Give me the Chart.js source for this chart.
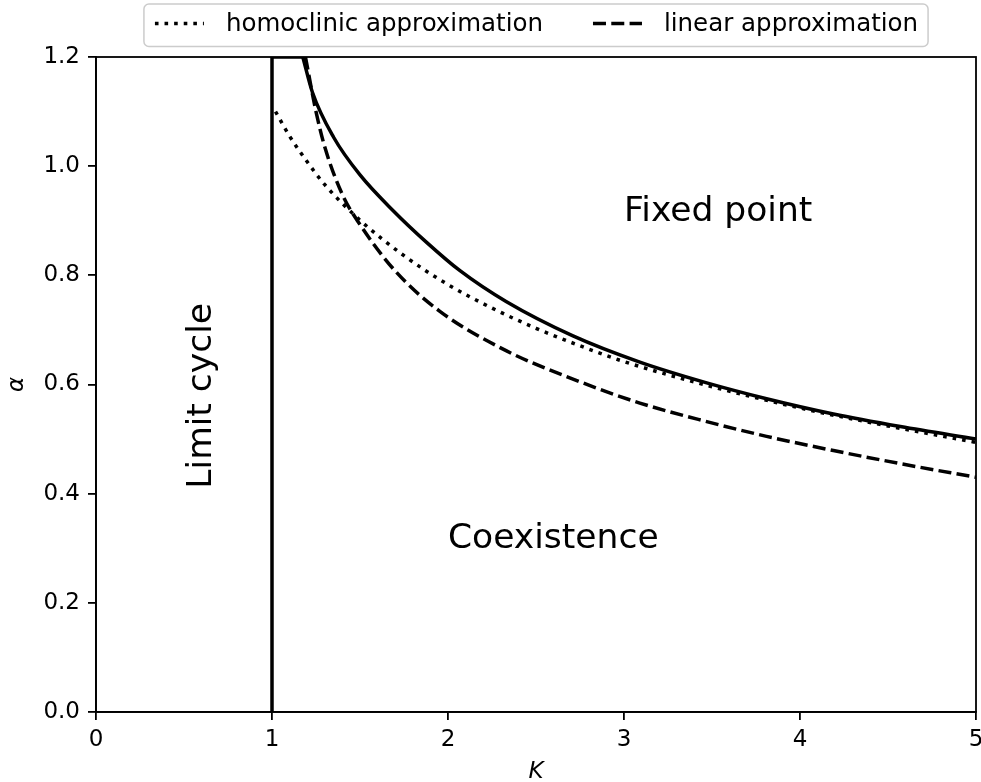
<!DOCTYPE html>
<html>
<head>
<meta charset="utf-8">
<title>Phase diagram</title>
<script src="https://cdn.jsdelivr.net/npm/chart.js@4.4.0/dist/chart.umd.min.js"></script>
<style>
  html, body { margin: 0; padding: 0; background: #fff; }
  #wrap { position: relative; width: 981px; height: 782px; }
</style>
</head>
<body>
<div id="wrap"><canvas id="phase"></canvas></div>
<script>
// regime boundaries in the (K, alpha) plane
const kBoundary = [1, 1, 1.175];
const alphaBoundary = [0, 1.2, 1.2];

const kNumeric = [1.175, 1.23, 1.35, 1.5, 1.69, 1.88, 2.07, 2.33, 2.71, 3.09, 3.47, 3.81, 4.19, 4.57, 5.0];
const alphaNumeric = [1.2, 1.135, 1.053, 0.984, 0.918, 0.860, 0.808, 0.752, 0.689, 0.641, 0.603, 0.574, 0.546, 0.523, 0.500];

const kHomoclinic = [1.02, 1.1, 1.2, 1.3, 1.5, 1.75, 2.0, 2.25, 2.5, 2.75, 3.0, 3.5, 4.0, 4.5, 5.0];
const alphaHomoclinic = [1.100, 1.055, 1.008, 0.966, 0.901, 0.836, 0.783, 0.740, 0.703, 0.671, 0.642, 0.596, 0.557, 0.524, 0.494];

const kLinear = [1.19, 1.25, 1.3, 1.4, 1.5, 1.7, 1.95, 2.33, 2.71, 3.09, 3.47, 3.81, 4.19, 4.57, 5.0];
const alphaLinear = [1.2, 1.10, 1.035, 0.948, 0.893, 0.808, 0.735, 0.662, 0.610, 0.566, 0.532, 0.505, 0.479, 0.455, 0.430];

const kTicks = [0, 1, 2, 3, 4, 5];
const alphaTicks = [0, 0.2, 0.4, 0.6, 0.8, 1.0, 1.2];

// region names and where they sit (K, alpha)
const regionNames = ['Fixed point', 'Coexistence', 'Limit cycle'];
const regionK = [3, 2, 0.5];
const regionAlpha = [0.9, 0.3, 0.4];

const FONT = "'DejaVu Sans', 'Noto Sans', sans-serif";

function pts(xs, ys) {
  return xs.map((x, i) => ({ x: x, y: ys[i] }));
}

function curve(label, xs, ys, dash, inLegend) {
  return {
    label: label,
    data: pts(xs, ys),
    showLine: true,
    borderColor: '#000',
    borderWidth: 3.5,
    borderDash: dash,
    borderCapStyle: 'butt',
    pointRadius: 0,
    pointHoverRadius: 0,
    cubicInterpolationMode: 'monotone',
    inLegend: inLegend
  };
}

// frame on all four sides, like a boxed axes
const frame = {
  id: 'frame',
  afterDatasetsDraw(chart) {
    const a = chart.chartArea, ctx = chart.ctx;
    ctx.save();
    ctx.strokeStyle = '#000';
    ctx.lineWidth = 1.8;
    ctx.strokeRect(a.left, a.top, a.right - a.left, a.bottom - a.top);
    ctx.restore();
  }
};

// region names placed in data coordinates
const regions = {
  id: 'regions',
  afterDatasetsDraw(chart) {
    const x = chart.scales.x, y = chart.scales.y, ctx = chart.ctx;
    const size = 34.5;
    ctx.save();
    ctx.fillStyle = '#000';
    ctx.font = size + 'px ' + FONT;
    ctx.textBaseline = 'alphabetic';
    ctx.textAlign = 'left';
    regionNames.forEach((name, i) => {
      const px = x.getPixelForValue(regionK[i]);
      const py = y.getPixelForValue(regionAlpha[i]);
      if (name === 'Limit cycle') {
        ctx.save();
        ctx.translate(px + size * 0.77, py - 5);
        ctx.rotate(-Math.PI / 2);
        ctx.fillText(name, 0, 0);
        ctx.restore();
      } else {
        ctx.fillText(name, px, py);
      }
    });
    ctx.restore();
  }
};

// boxed legend above the plot, centred on the axes
const boxLegend = {
  id: 'boxLegend',
  afterDraw(chart) {
    const ctx = chart.ctx, a = chart.chartArea;
    const items = chart.data.datasets.filter(d => d.inLegend);
    const size = 24.5;
    const handle = 49, gap = 22, colGap = 50, padL = 11, padR = 10;
    ctx.save();
    ctx.font = size + 'px ' + FONT;
    const widths = items.map(d => ctx.measureText(d.label).width);
    let total = padL + padR;
    widths.forEach((w, i) => { total += handle + gap + w + (i > 0 ? colGap : 0); });
    const left = (a.left + a.right) / 2 - total / 2;
    const top = 4, h = 42.5, r = 5;

    ctx.beginPath();
    ctx.moveTo(left + r, top);
    ctx.arcTo(left + total, top, left + total, top + h, r);
    ctx.arcTo(left + total, top + h, left, top + h, r);
    ctx.arcTo(left, top + h, left, top, r);
    ctx.arcTo(left, top, left + total, top, r);
    ctx.closePath();
    ctx.fillStyle = 'rgba(255,255,255,0.8)';
    ctx.fill();
    ctx.strokeStyle = '#cccccc';
    ctx.lineWidth = 1.5;
    ctx.stroke();

    let cx = left + padL;
    const cy = 23.5;
    items.forEach((d, i) => {
      if (i > 0) cx += colGap;
      ctx.beginPath();
      ctx.setLineDash(d.borderDash || []);
      ctx.lineCap = 'butt';
      ctx.lineWidth = d.borderWidth;
      ctx.strokeStyle = d.borderColor;
      ctx.moveTo(cx, cy);
      ctx.lineTo(cx + handle, cy);
      ctx.stroke();
      ctx.setLineDash([]);
      cx += handle + gap;
      ctx.fillStyle = '#000';
      ctx.textBaseline = 'middle';
      ctx.textAlign = 'left';
      ctx.fillText(d.label, cx, cy + 1.5);
      cx += widths[i];
    });
    ctx.restore();
  }
};

new Chart(document.getElementById('phase'), {
  type: 'scatter',
  data: {
    datasets: [
      curve('boundary', kBoundary, alphaBoundary, [], false),
      curve('numerical boundary', kNumeric, alphaNumeric, [], false),
      curve('homoclinic approximation', kHomoclinic, alphaHomoclinic, [3.6, 6], true),
      curve('linear approximation', kLinear, alphaLinear, [13, 5.3], true)
    ]
  },
  options: {
    responsive: true,
    maintainAspectRatio: false,
    animation: false,
    events: [],
    layout: { padding: { top: 57, right: 5, left: 0, bottom: 0 } },
    plugins: {
      legend: { display: false },
      tooltip: { enabled: false }
    },
    scales: {
      x: {
        type: 'linear',
        min: 0,
        max: 5,
        afterBuildTicks: s => { s.ticks = kTicks.map(v => ({ value: v })); },
        afterFit: s => { s.height = 70; s.paddingLeft = 0; s.paddingRight = 0; },
        ticks: {
          color: '#000',
          padding: 6.5,
          maxRotation: 0,
          font: { family: FONT, size: 23 },
          callback: v => String(v)
        },
        grid: { drawOnChartArea: false, drawTicks: true, tickLength: 8, color: '#000', lineWidth: 1.8 },
        border: { display: true, color: '#000', width: 1.8 },
        title: {
          display: true,
          text: 'K',
          color: '#000',
          padding: { top: 0, bottom: -4 },
          font: { family: FONT, size: 23, style: 'italic' }
        }
      },
      y: {
        type: 'linear',
        min: 0,
        max: 1.2,
        afterBuildTicks: s => { s.ticks = alphaTicks.map(v => ({ value: v })); },
        afterFit: s => { s.width = 96; s.paddingTop = 0; s.paddingBottom = 0; },
        ticks: {
          color: '#000',
          padding: 8,
          font: { family: FONT, size: 23 },
          callback: v => Number(v).toFixed(1)
        },
        grid: { drawOnChartArea: false, drawTicks: true, tickLength: 8, color: '#000', lineWidth: 1.8 },
        border: { display: true, color: '#000', width: 1.8 },
        title: {
          display: true,
          text: 'α',
          color: '#000',
          padding: { top: 3, bottom: 0 },
          font: { family: FONT, size: 23, style: 'italic' }
        }
      }
    }
  },
  plugins: [frame, regions, boxLegend]
});
</script>
</body>
</html>
